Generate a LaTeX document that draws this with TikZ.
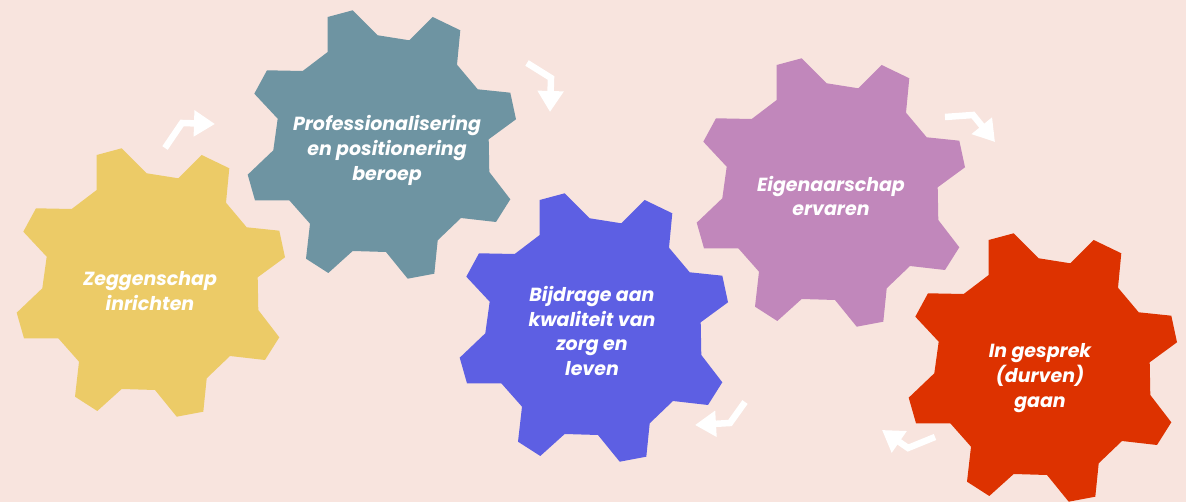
\documentclass[tikz,border=0pt]{standalone}
\usepackage{fontspec}
\setmainfont{Poppins}
\usetikzlibrary{arrows.meta}
\definecolor{bgpink}{HTML}{F8E4DE}
\definecolor{gearyellow}{HTML}{ECCB67}
\definecolor{gearteal}{HTML}{6E94A2}
\definecolor{gearblue}{HTML}{5D5FE3}
\definecolor{gearpurple}{HTML}{C187BB}
\definecolor{gearred}{HTML}{DD3200}
\tikzset{
  gearlabel/.style={text=white, align=center, font=\fontsize{10.8}{14.2}\selectfont\bfseries\itshape},
  flow/.style={white, line width=3.7pt, -{Triangle[width=0.5cm,length=0.42cm]}}
}
% one cog, #1 #2 = centre, #3 = colour
\newcommand\cog[3]{%
  \fill[#3, shift={(#1,#2)}] (-53.3,-128) -- (-28.3,-134.7) -- (-3.3,-109.7) -- (28.3,-104.7)
    -- (51.7,-128) -- (79.3,-114.7) -- (76,-80.3) -- (96.7,-55.7)
    -- (129.3,-52.3) -- (135,-25.7) -- (107.7,-5.7) -- (108.3,27)
    -- (129.3,54.3) -- (115,77) -- (80,73) -- (56.7,95.3)
    -- (53.3,128.7) -- (26.7,133.7) -- (5,107) -- (-28.3,106)
    -- (-52.7,128) -- (-75,113.7) -- (-71,78.7) -- (-91.7,55.3)
    -- (-126,55.3) -- (-133.3,29.7) -- (-107.7,5.3) -- (-103.3,-26.3)
    -- (-126.7,-51.3) -- (-114,-74.7) -- (-78.3,-74) -- (-53.3,-93) -- cycle;}
\begin{document}
\begin{tikzpicture}[x=0.02cm, y=-0.02cm]
\fill[bgpink] (0,0) rectangle (1186,502);
\useasboundingbox (0,0) rectangle (1186,502);

\cog{150}{283}{gearyellow}
\cog{381}{145}{gearteal}
\cog{593}{328}{gearblue}
\cog{830}{193}{gearpurple}
\cog{1042}{368}{gearred}

\node[gearlabel] (zeg) at (150,291) {Zeggenschap\\inrichten};
\node[gearlabel] (prof) at (387,150) {Professionalisering\\en positionering\\beroep};
\node[gearlabel] (bij) at (592,331) {Bijdrage aan\\kwaliteit van\\zorg en\\leven};
\node[gearlabel] (eig) at (831,196) {Eigenaarschap\\ervaren};
\node[gearlabel] (ges) at (1040,378) {In gesprek\\(durven)\\gaan};

% arrows between the cogs
\coordinate (a1s) at (165,148); \coordinate (a1m) at (182,123); \coordinate (a1e) at (215,124);
\coordinate (a2s) at (527,63);  \coordinate (a2m) at (551,78);  \coordinate (a2e) at (550,112);
\coordinate (a3s) at (945,117); \coordinate (a3m) at (973,115); \coordinate (a3e) at (995,142);
\coordinate (a4s) at (745,402); \coordinate (a4m) at (730,423); \coordinate (a4e) at (695,425);
\coordinate (a5s) at (935,437); \coordinate (a5m) at (908,448); \coordinate (a5e) at (882,430);
\foreach \a in {a1,a2,a3,a4,a5} {\draw [flow] (\a s) -- (\a m) -- (\a e);}
\end{tikzpicture}
\end{document}
